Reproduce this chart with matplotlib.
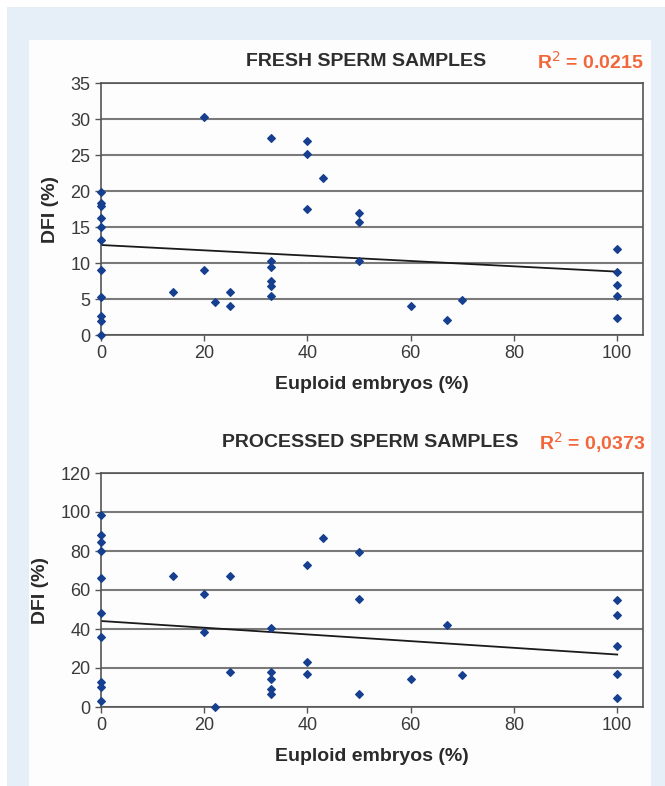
import numpy as np
import matplotlib
matplotlib.use('Agg')
import matplotlib.pyplot as plt
from matplotlib.patches import Rectangle

plt.rcParams['font.family'] = ['Liberation Sans', 'DejaVu Sans']

# fresh sperm samples: euploid embryos (%) vs DFI (%)
fresh_x = [0, 0, 0, 0, 0, 0, 0, 0, 0, 0, 0,
           14, 20, 20, 22, 25, 25,
           33, 33, 33, 33, 33, 33,
           40, 40, 40, 43, 50, 50, 50,
           60, 67, 70,
           100, 100, 100, 100, 100]
fresh_y = [19.8, 18.3, 17.9, 16.3, 15.0, 13.2, 9.0, 5.3, 2.6, 2.0, 0.0,
           6.0, 30.3, 9.0, 4.6, 6.0, 4.0,
           27.4, 10.3, 9.5, 7.5, 6.8, 5.4,
           27.0, 25.2, 17.5, 21.8, 16.9, 15.7, 10.3,
           4.0, 2.05, 4.9,
           12.0, 8.75, 7.0, 5.4, 2.3]
fresh_trend = [12.5, 8.8]   # value of the trend line at x=0 and x=100
fresh_r2 = 'R$^2$ = 0.0215'

# processed sperm samples
proc_x = [0, 0, 0, 0, 0, 0, 0, 0, 0, 0,
          14, 20, 20, 22, 25, 25,
          33, 33, 33, 33, 33,
          40, 40, 40, 43, 50, 50, 50,
          60, 67, 70,
          100, 100, 100, 100, 100]
proc_y = [98.6, 88.1, 84.7, 80.2, 66.0, 48.0, 36.0, 12.9, 10.1, 3.3,
          67.0, 58.1, 38.4, 0.0, 67.0, 18.0,
          40.6, 18.0, 14.4, 9.3, 6.9,
          72.9, 23.3, 17.0, 86.9, 79.5, 55.2, 6.9,
          14.2, 42.0, 16.6,
          54.7, 47.3, 31.4, 17.1, 4.5]
proc_trend = [44.1, 26.9]
proc_r2 = 'R$^2$ = 0,0373'

trend_x = [0, 100]

fig = plt.figure(figsize=(6.65, 7.86), dpi=100)
fig.patch.set_facecolor('white')
fig.patches.append(Rectangle((7/665, 0), 1 - 7/665, 1 - 7/786, transform=fig.transFigure,
                             facecolor='#e6eef8', edgecolor='none', zorder=-2))
fig.patches.append(Rectangle((29/665, 0), (651 - 29)/665, 1 - 40/786, transform=fig.transFigure,
                             facecolor='#fdfdfe', edgecolor='none', zorder=-1))

def panel(rect, xs, ys, trend, ymax, ystep, title, r2, title_x, r2_x, title_y):
    ax = fig.add_axes(rect)
    ax.set_facecolor('none')
    ax.set_xlim(0, 105)
    ax.set_ylim(0, ymax)
    ax.set_yticks(np.arange(0, ymax + 1, ystep))
    ax.set_xticks([0, 20, 40, 60, 80, 100])
    ax.grid(axis='y', color='#7a7a7a', linewidth=1.5)
    ax.set_axisbelow(True)
    for s in ax.spines.values():
        s.set_color('#555555')
        s.set_linewidth(1.2)
    ax.tick_params(direction='out', length=4, width=1, color='#555555',
                   labelsize=13, labelcolor='#3a3a3a')
    ax.plot(trend_x, trend, color='#1a1a1a', linewidth=1.3, zorder=2)
    ax.scatter(xs, ys, marker='D', s=15, color='#16408f', zorder=3, clip_on=False)
    ax.set_xlabel('Euploid embryos (%)', fontsize=14, fontweight='bold', color='#2a2a2a', labelpad=10)
    ax.set_ylabel('DFI (%)', fontsize=14, fontweight='bold', color='#2a2a2a', labelpad=8)
    fig.text(title_x, title_y, title, ha='center', va='center', fontsize=14,
             fontweight='bold', color='#2e2e2e')
    fig.text(r2_x, title_y, r2, ha='center', va='center', fontsize=14,
             fontweight='bold', color='#f2663a')
    return ax

panel([101/665, 1 - 335/786, 542/665, 252/786], fresh_x, fresh_y, fresh_trend, 35, 5,
      'FRESH SPERM SAMPLES', fresh_r2, 366/665, 590/665, 1 - 62/786)
panel([101/665, 1 - 707/786, 542/665, 234/786], proc_x, proc_y, proc_trend, 120, 20,
      'PROCESSED SPERM SAMPLES', proc_r2, 370/665, 592/665, 1 - 443/786)

fig.savefig('out.png', dpi=100)
